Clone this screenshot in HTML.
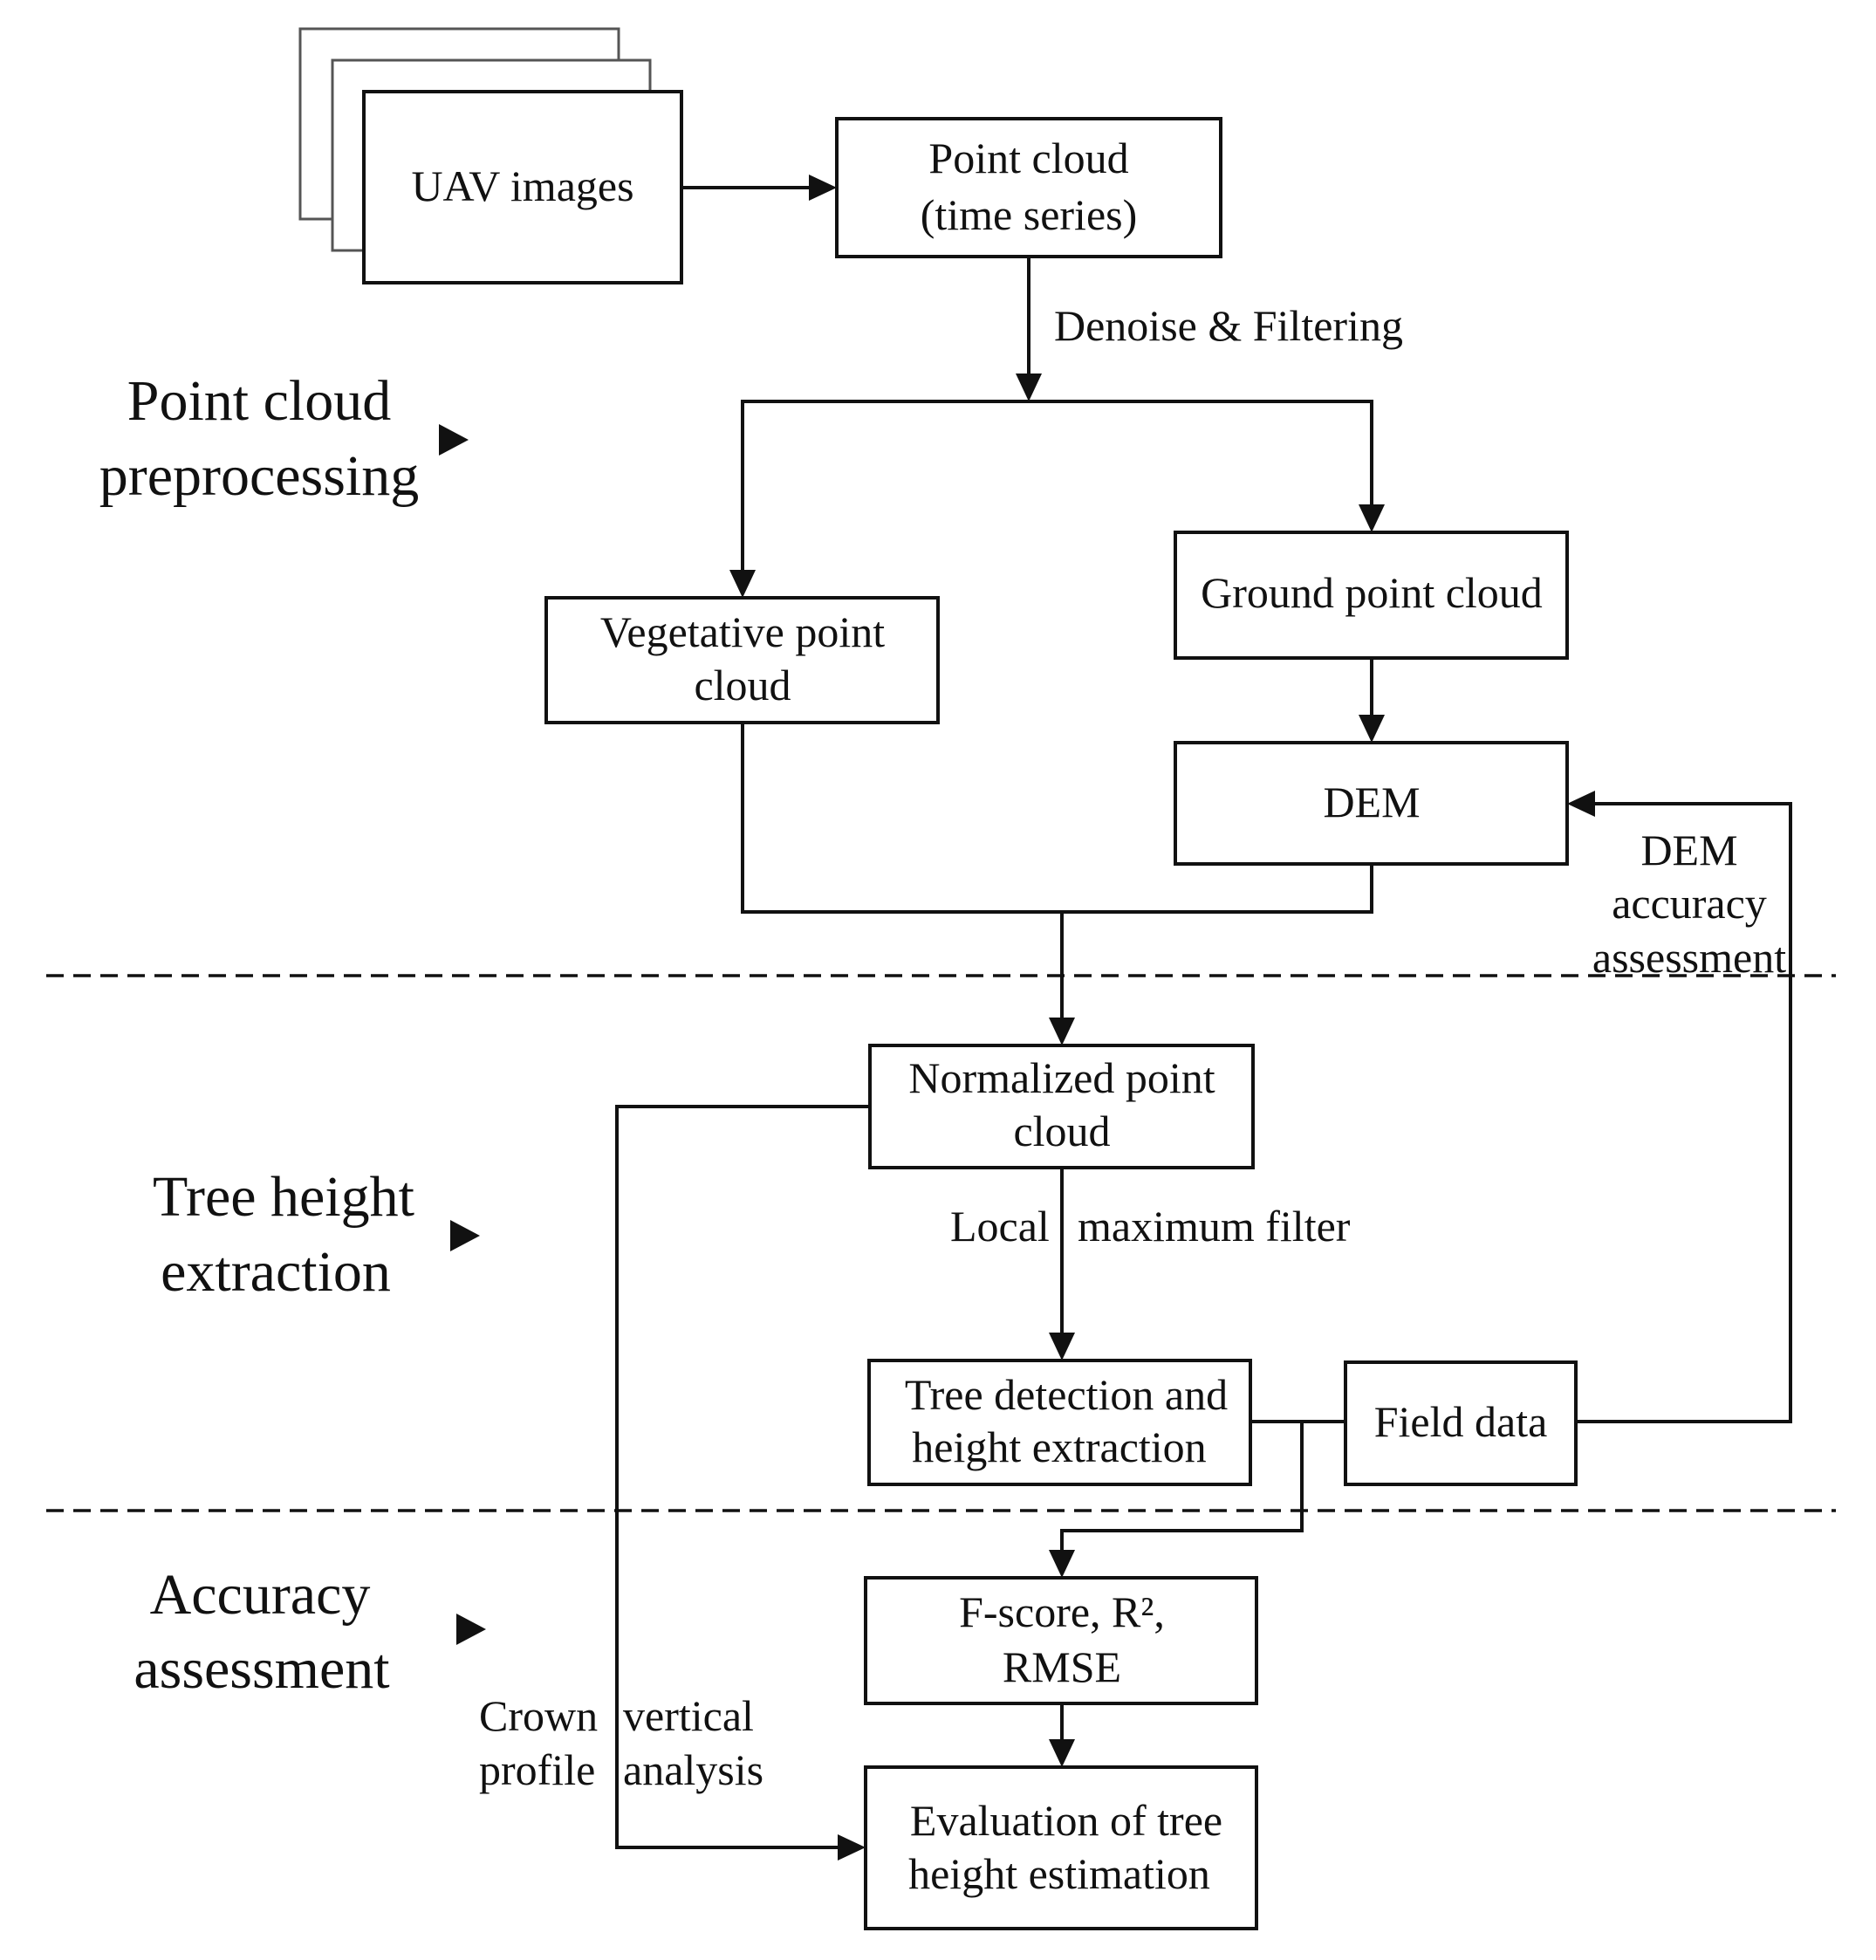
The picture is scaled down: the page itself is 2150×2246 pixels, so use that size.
<!DOCTYPE html>
<html><head><meta charset="utf-8"><style>html,body{margin:0;padding:0;background:#fff}</style></head>
<body>
<svg width="2150" height="2241" viewBox="0 0 2150 2241" xmlns="http://www.w3.org/2000/svg" font-family="'Liberation Serif', serif" fill="none">
<g stroke="#555" stroke-width="3" fill="#fff">
<rect x="344" y="33" width="365" height="218"/>
<rect x="381" y="69" width="364" height="218"/>
</g>
<g stroke="#111" stroke-width="4" fill="#fff">
<rect x="417" y="105" width="364" height="219"/>
<rect x="959" y="136" width="440" height="158"/>
<rect x="626" y="685" width="449" height="143"/>
<rect x="1347" y="610" width="449" height="144"/>
<rect x="1347" y="851" width="449" height="139"/>
<rect x="997" y="1198" width="439" height="140"/>
<rect x="996" y="1559" width="437" height="142"/>
<rect x="1542" y="1561" width="264" height="140"/>
<rect x="992" y="1808" width="448" height="144"/>
<rect x="992" y="2025" width="448" height="185"/>
</g>
<g stroke="#111" stroke-width="4">
<line x1="781" y1="215" x2="930" y2="215"/>
<polyline points="1179,294 1179,430"/>
<polyline points="851,655 851,460 1572,460 1572,580"/>
<line x1="1572" y1="754" x2="1572" y2="822"/>
<polyline points="851,828 851,1045 1572,1045 1572,990"/>
<line x1="1217" y1="1045" x2="1217" y2="1168"/>
<line x1="1217" y1="1338" x2="1217" y2="1528"/>
<line x1="1433" y1="1629" x2="1542" y2="1629"/>
<polyline points="1492,1629 1492,1754 1217,1754 1217,1778"/>
<polyline points="1806,1629 2052,1629 2052,921 1826,921"/>
<line x1="1217" y1="1952" x2="1217" y2="1996"/>
<polyline points="997,1268 707,1268 707,2117 962,2117"/>
</g>
<g fill="#111">
<polygon points="959,215 927,200 927,230"/>
<polygon points="1179,460 1164,428 1194,428"/>
<polygon points="851,685 836,653 866,653"/>
<polygon points="1572,610 1557,578 1587,578"/>
<polygon points="1572,851 1557,819 1587,819"/>
<polygon points="1217,1198 1202,1166 1232,1166"/>
<polygon points="1217,1559 1202,1527 1232,1527"/>
<polygon points="1217,1808 1202,1776 1232,1776"/>
<polygon points="1217,2025 1202,1993 1232,1993"/>
<polygon points="1796,921 1828,906 1828,936"/>
<polygon points="992,2117 960,2102 960,2132"/>
<polygon points="503,486 537,504 503,522"/>
<polygon points="516,1398 550,1416 516,1434"/>
<polygon points="523,1849 557,1867 523,1885"/>
</g>
<g stroke="#111" stroke-width="3.5" stroke-dasharray="20,11">
<line x1="53" y1="1118" x2="2104" y2="1118"/>
<line x1="53" y1="1731" x2="2104" y2="1731"/>
</g>
<g fill="#111" font-size="50" text-anchor="middle">
<text x="599" y="230">UAV images</text>
<text x="1179" y="198">Point cloud</text>
<text x="1179" y="263">(time series)</text>
<text x="1208" y="390" text-anchor="start">Denoise &amp; Filtering</text>
<text x="851" y="741">Vegetative point</text>
<text x="851" y="802">cloud</text>
<text x="1572" y="696">Ground point cloud</text>
<text x="1572" y="936">DEM</text>
<text x="1936" y="991">DEM</text>
<text x="1936" y="1052">accuracy</text>
<text x="1936" y="1114">assessment</text>
<text x="1217" y="1252">Normalized  point</text>
<text x="1217" y="1313">cloud</text>
<text x="1089" y="1422" text-anchor="start">Local</text>
<text x="1235" y="1422" text-anchor="start">maximum filter</text>
<text x="1222" y="1615">Tree detection and</text>
<text x="1214" y="1675">height extraction</text>
<text x="1674" y="1646">Field data</text>
<text x="1217" y="1864">F-score, R², </text>
<text x="1217" y="1927">RMSE</text>
<text x="1222" y="2103">Evaluation of tree</text>
<text x="1214" y="2164">height estimation</text>
<text x="549" y="1983" text-anchor="start">Crown</text>
<text x="714" y="1983" text-anchor="start">vertical</text>
<text x="549" y="2045" text-anchor="start">profile</text>
<text x="714" y="2045" text-anchor="start">analysis</text>
</g>
<g fill="#111" font-size="66" text-anchor="middle">
<text x="297" y="481">Point cloud</text>
<text x="297" y="567">preprocessing</text>
<text x="325" y="1393">Tree height</text>
<text x="316" y="1479">extraction</text>
<text x="298" y="1849">Accuracy</text>
<text x="300" y="1934">assessment</text>
</g>
</svg>
</body></html>
